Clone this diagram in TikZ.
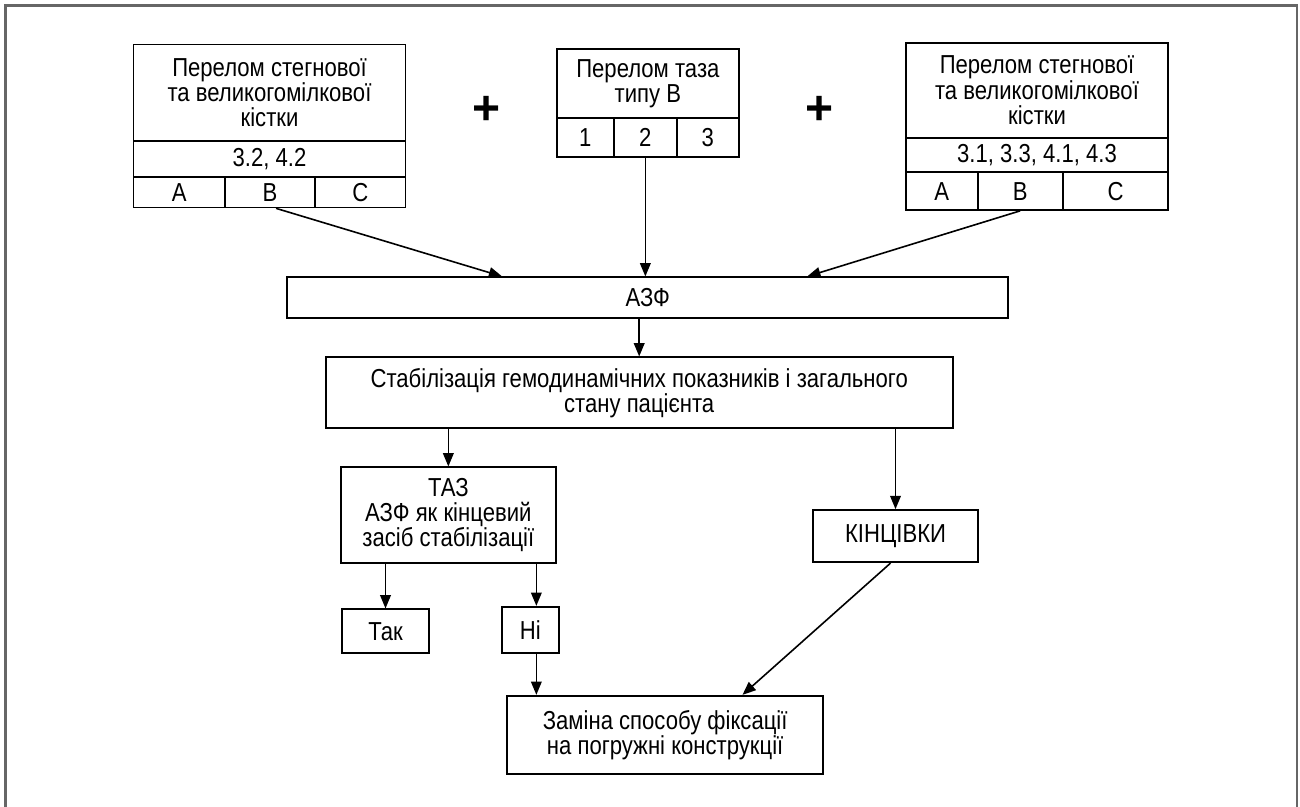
\documentclass[tikz,border=0pt]{standalone}
\usepackage{fontspec}
\setmainfont{Liberation Sans}[FakeStretch=0.85]
\newfontfamily\plusfont{Liberation Sans}
\usetikzlibrary{arrows.meta,calc}
\newcommand\cellbox[6]{%
  \node[cell, minimum width={(#4-#2)*0.75pt}, minimum height={(#5-#3)*0.75pt}] (#1) at ({(#2+#4)/2},{(#3+#5)/2}) {#6};}
\begin{document}
\begin{tikzpicture}[x=0.75pt,y=-0.75pt,
  cell/.style={draw, line width=1.25pt, inner sep=0pt, align=center, font=\fontsize{19.5}{18.8}\selectfont},
  arr/.style={line width=1.2pt, -{Triangle[length=10pt,width=8pt]}},
  plus/.style={font=\plusfont\bfseries\fontsize{36}{36}\selectfont, inner sep=0pt},
  frame/.style={draw=black!60, line width=1.6pt}]
\useasboundingbox (0,0) rectangle (1300,807);
\draw[frame] (5.5,807) -- (5.5,5.5) -- (1297,5.5) -- (1297,807);
% box 1
\cellbox{b1t}{133.5}{44.5}{405.5}{141}{Перелом стегнової\\та великогомілкової\\кістки}
\cellbox{b1m}{133.5}{141}{405.5}{177}{3.2, 4.2}
\cellbox{b1A}{133.5}{177}{225}{207.5}{A}
\cellbox{b1B}{225}{177}{315}{207.5}{B}
\cellbox{b1C}{315}{177}{405.5}{207.5}{C}
% box 2
\cellbox{b2t}{556.7}{49.3}{739}{118.3}{Перелом таза\\типу В}
\cellbox{b2a}{556.7}{118.3}{614}{156.7}{1}
\cellbox{b2b}{614}{118.3}{676.7}{156.7}{2}
\cellbox{b2c}{676.7}{118.3}{739}{156.7}{3}
% box 3
\cellbox{b3t}{905.7}{42.7}{1168.3}{137.7}{Перелом стегнової\\та великогомілкової\\кістки}
\cellbox{b3m}{905.7}{137.7}{1168.3}{172.3}{3.1, 3.3, 4.1, 4.3}
\cellbox{b3A}{905.7}{172.3}{977.7}{210}{A}
\cellbox{b3B}{977.7}{172.3}{1062.7}{210}{B}
\cellbox{b3C}{1062.7}{172.3}{1168.3}{210}{C}
% plus signs
\node[plus] (p1) at (486.7,110.7) {+};
\node[plus] (p2) at (820,110.7) {+};
% main boxes
\cellbox{azf}{287.3}{277.3}{1008.3}{318.3}{АЗФ}
\cellbox{stab}{325.7}{357.3}{952.7}{428.3}{Стабілізація гемодинамічних показників і загального\\стану пацієнта}
\cellbox{taz}{340.7}{467.3}{556}{562.7}{ТАЗ\\АЗФ як кінцевий\\засіб стабілізації}
\cellbox{tak}{342}{609.3}{429}{653.3}{Так}
\cellbox{ni}{501.7}{606.7}{559}{653.3}{Ні}
\cellbox{kin}{812.7}{510}{978.3}{562.3}{КІНЦІВКИ}
\cellbox{zam}{507.3}{695.7}{823}{774}{Заміна способу фіксації\\на погружні конструкції}
% connectors
\draw[arr] ($(b1B.south)+(6,0)$) -- ($(azf.north west)+(215.7,0)$);
\draw[arr] (b2b.south) -- (b2b.south |- azf.north);
\draw[arr] (b3B.south) -- ($(azf.north west)+(520.7,0)$);
\draw[arr] (stab.north |- azf.south) -- (stab.north);
\draw[arr] (taz.north |- stab.south) -- (taz.north);
\draw[arr] (kin.north |- stab.south) -- (kin.north);
\draw[arr] (tak.north |- taz.south) -- (tak.north);
\coordinate (niA) at ($(ni.north)+(6,0)$);
\coordinate (niB) at ($(ni.south)+(6,0)$);
\draw[arr] (niA |- taz.south) -- (niA);
\draw[arr] (niB) -- (niB |- zam.north);
\draw[arr] ($(kin.south)+(-5,0)$) -- ($(zam.north west)+(236,0)$);
\end{tikzpicture}
\end{document}
